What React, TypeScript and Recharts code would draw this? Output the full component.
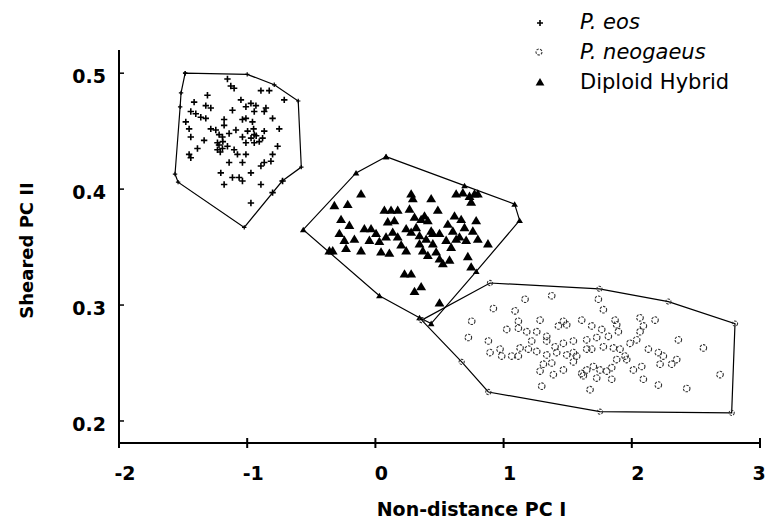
import { ScatterChart, Scatter, XAxis, YAxis, Legend, Label } from "recharts";

type Pt = [number, number];

// P. eos (plus signs)
const eosPoints: Pt[] = [
  [-1.154, 0.495], [-1.128, 0.489], [-1.102, 0.487], [-0.893, 0.485], [-0.828, 0.485],
  [-0.711, 0.477], [-1.31, 0.481], [-1.414, 0.475], [-1.323, 0.472], [-1.284, 0.47],
  [-1.44, 0.467], [-1.401, 0.465], [-1.362, 0.462], [-1.323, 0.461], [-1.479, 0.458],
  [-1.453, 0.452], [-1.44, 0.445], [-1.388, 0.435], [-1.453, 0.43], [-1.44, 0.427],
  [-1.336, 0.442], [-1.284, 0.452], [-1.245, 0.451], [-1.18, 0.46], [-1.18, 0.455],
  [-1.219, 0.447], [-1.232, 0.44], [-1.232, 0.434], [-1.193, 0.435], [-1.154, 0.437],
  [-1.115, 0.468], [-1.049, 0.477], [-1.01, 0.471], [-0.971, 0.474], [-0.932, 0.472],
  [-0.945, 0.467], [-0.867, 0.467], [-0.854, 0.47], [-0.802, 0.461], [-1.037, 0.46],
  [-0.959, 0.458], [-1.088, 0.451], [-0.997, 0.45], [-0.945, 0.447], [-0.867, 0.45],
  [-0.88, 0.444], [-0.906, 0.441], [-0.945, 0.44], [-1.01, 0.44], [-0.75, 0.452],
  [-0.763, 0.437], [-0.802, 0.43], [-0.815, 0.424], [-0.867, 0.423], [-0.893, 0.42],
  [-1.01, 0.43], [-1.037, 0.423], [-1.076, 0.43], [-1.102, 0.434], [-1.141, 0.423],
  [-1.206, 0.414], [-1.18, 0.404], [-1.115, 0.41], [-1.063, 0.41], [-1.037, 0.407],
  [-0.971, 0.414], [-0.893, 0.404], [-0.971, 0.388], [-0.802, 0.397], [-0.724, 0.407],
  [-1.141, 0.448], [-1.193, 0.445], [-1.01, 0.461], [-1.037, 0.445], [-1.22, 0.438],
  [-1.19, 0.441], [-1.21, 0.432], [-0.95, 0.452], [-0.93, 0.446], [-0.97, 0.444],
];

// P. neogaeus (open circles)
const neoPoints: Pt[] = [
  [1.375, 0.308], [1.167, 0.305], [0.92, 0.297], [1.089, 0.295], [1.115, 0.286],
  [1.284, 0.287], [1.739, 0.305], [1.778, 0.296], [0.751, 0.286], [0.725, 0.272],
  [0.881, 0.269], [0.894, 0.259], [0.985, 0.256], [1.024, 0.279], [1.115, 0.28],
  [1.18, 0.277], [1.258, 0.277], [1.336, 0.273], [1.427, 0.282], [1.466, 0.286],
  [1.492, 0.283], [1.609, 0.287], [1.687, 0.282], [1.765, 0.279], [1.869, 0.287],
  [1.882, 0.283], [1.895, 0.277], [1.817, 0.273], [1.726, 0.272], [1.648, 0.27],
  [1.544, 0.269], [1.466, 0.267], [1.401, 0.264], [1.336, 0.269], [1.219, 0.269],
  [1.193, 0.262], [1.128, 0.263], [1.115, 0.256], [1.258, 0.26], [1.336, 0.257],
  [1.414, 0.259], [1.492, 0.257], [1.544, 0.259], [1.57, 0.256], [1.648, 0.262],
  [1.687, 0.262], [1.778, 0.264], [1.856, 0.263], [1.908, 0.262], [1.947, 0.256],
  [1.986, 0.267], [2.038, 0.27], [2.064, 0.277], [2.09, 0.282], [2.064, 0.289],
  [2.181, 0.287], [2.363, 0.27], [2.558, 0.263], [2.688, 0.24], [2.129, 0.262],
  [2.207, 0.259], [2.246, 0.256], [2.35, 0.253], [2.311, 0.249], [2.22, 0.249],
  [2.077, 0.247], [2.09, 0.236], [2.207, 0.231], [2.428, 0.228], [1.882, 0.253],
  [1.843, 0.246], [1.804, 0.243], [1.752, 0.244], [1.7, 0.247], [1.648, 0.244],
  [1.622, 0.239], [1.609, 0.241], [1.726, 0.237], [1.843, 0.236], [1.674, 0.227],
  [1.466, 0.244], [1.375, 0.25], [1.31, 0.249], [1.284, 0.243], [1.297, 0.23],
  [1.063, 0.256], [0.972, 0.262], [1.388, 0.24], [1.544, 0.251], [2.012, 0.244],
  [1.96, 0.253],
];

// Diploid hybrid (filled triangles)
const hybPoints: Pt[] = [
  [-0.112, 0.396], [-0.32, 0.386], [-0.216, 0.387], [-0.268, 0.374], [-0.203, 0.369],
  [-0.281, 0.362], [-0.242, 0.356], [-0.164, 0.357], [-0.333, 0.347], [-0.229, 0.349],
  [-0.112, 0.347], [-0.086, 0.366], [-0.034, 0.366], [-0.047, 0.356], [0.005, 0.362],
  [0.031, 0.355], [0.044, 0.346], [0.109, 0.345], [0.07, 0.382], [0.122, 0.382],
  [0.174, 0.382], [0.096, 0.372], [0.148, 0.373], [0.135, 0.363], [0.083, 0.359],
  [0.174, 0.359], [0.201, 0.352], [0.24, 0.347], [0.279, 0.396], [0.292, 0.392],
  [0.266, 0.383], [0.305, 0.376], [0.24, 0.366], [0.279, 0.363], [0.318, 0.367],
  [0.357, 0.374], [0.383, 0.377], [0.409, 0.373], [0.435, 0.392], [0.487, 0.382],
  [0.435, 0.364], [0.396, 0.357], [0.344, 0.353], [0.37, 0.347], [0.409, 0.343],
  [0.448, 0.353], [0.474, 0.346], [0.5, 0.34], [0.526, 0.336], [0.578, 0.339],
  [0.552, 0.356], [0.565, 0.37], [0.604, 0.364], [0.617, 0.377], [0.63, 0.357],
  [0.669, 0.374], [0.695, 0.367], [0.656, 0.359], [0.708, 0.356], [0.721, 0.342],
  [0.747, 0.333], [0.786, 0.373], [0.799, 0.357], [0.878, 0.353], [0.76, 0.364],
  [0.63, 0.396], [0.682, 0.397], [0.734, 0.394], [0.773, 0.396], [0.747, 0.389],
  [0.799, 0.396], [0.227, 0.327], [0.279, 0.327], [0.305, 0.312], [0.357, 0.316],
  [0.5, 0.302], [-0.359, 0.347], [0.448, 0.362], [0.5, 0.362], [0.591, 0.35],
  [0.344, 0.36],
];

// convex hull vertices, in drawing order
const eosHull: Pt[] = [
  [-1.484, 0.5], [-1.0, 0.499], [-0.789, 0.49], [-0.602, 0.476], [-0.578, 0.419],
  [-0.727, 0.407], [-1.023, 0.367], [-1.539, 0.406], [-1.563, 0.413], [-1.523, 0.471],
  [-1.516, 0.483],
];
const hybHull: Pt[] = [
  [0.083, 0.428], [0.695, 0.403], [1.086, 0.387], [1.125, 0.373], [0.787, 0.329],
  [0.435, 0.284], [0.344, 0.289], [0.031, 0.308], [-0.563, 0.365], [-0.151, 0.414],
];
const neoHull: Pt[] = [
  [0.361, 0.287], [0.894, 0.319], [1.747, 0.314], [2.285, 0.303], [2.805, 0.284],
  [2.779, 0.207], [1.752, 0.208], [0.881, 0.225], [0.673, 0.251],
];

const xTicks = [-2, -1, 0, 1, 2, 3];
const yTicks = [0.2, 0.3, 0.4, 0.5];
const seriesNames = ["P. eos", "P. neogaeus", "Diploid Hybrid"];

const FONT = "'DejaVu Sans', sans-serif";

const toXY = (pts: Pt[]) => pts.map(([x, y]) => ({ x, y }));
const closed = (pts: Pt[]) => toXY([...pts, pts[0]]);

const plus = (cx: number, cy: number, s: number, w = 1.5) => (
  <path d={`M${cx - s},${cy}H${cx + s}M${cx},${cy - s}V${cy + s}`} stroke="#000" strokeWidth={w} fill="none" />
);
const ring = (cx: number, cy: number, r: number) => (
  <circle cx={cx} cy={cy} r={r} fill="none" stroke="#333" strokeWidth={1.1} strokeDasharray="2.5 1.2" />
);
const tri = (cx: number, cy: number, s: number) => (
  <path d={`M${cx},${cy - s}L${cx + s * 1.1},${cy + s * 0.85}L${cx - s * 1.1},${cy + s * 0.85}Z`} fill="#000" />
);

const EosShape = (p: any) => plus(p.cx, p.cy, 3.2, 1.6);
const NeoShape = (p: any) => ring(p.cx, p.cy, 3.3);
const HybShape = (p: any) => tri(p.cx, p.cy, 4.5);
const EosVertex = (p: any) => plus(p.cx, p.cy, 2.2, 1.2);
const NeoVertex = (p: any) => ring(p.cx, p.cy, 2.6);
const HybVertex = (p: any) => tri(p.cx, p.cy, 3);

const XTick = (props: any) => {
  const { x, y, payload } = props;
  return (
    <g>
      <line x1={x} y1={y - 5} x2={x} y2={y + 5} stroke="#000" strokeWidth={2} />
      <text x={Math.min(x + 6, 759)} y={y + 37} textAnchor="middle" fontFamily={FONT} fontWeight="bold" fontSize={19} fill="#000">
        {payload.value}
      </text>
    </g>
  );
};

const YTick = (props: any) => {
  const { x, y, payload } = props;
  return (
    <g>
      <line x1={x} y1={y} x2={x + 5} y2={y} stroke="#000" strokeWidth={1.5} />
      <text x={x - 13} y={y + 10} textAnchor="end" fontFamily={FONT} fontWeight="bold" fontSize={19} fill="#000">
        {payload.value.toFixed(1)}
      </text>
    </g>
  );
};

const LegendBox = () => (
  <svg width={240} height={100}>
    {plus(20, 23, 3, 1.6)}
    <text x={60} y={29} fontFamily={FONT} fontStyle="italic" fontSize={21} fill="#000">{seriesNames[0]}</text>
    {ring(19, 52, 3)}
    <text x={60} y={59} fontFamily={FONT} fontStyle="italic" fontSize={21} fill="#000">{seriesNames[1]}</text>
    {tri(20, 82, 4)}
    <text x={60} y={89} fontFamily={FONT} fontSize={21} fill="#000">{seriesNames[2]}</text>
  </svg>
);

export default function App() {
  return (
    <div style={{ position: "absolute", left: 0, top: 0, width: 768, height: 522, background: "#fff" }}>
      <ScatterChart width={768} height={522} margin={{ top: 50, right: 8, bottom: 0, left: 0 }}>
        <XAxis
          type="number"
          dataKey="x"
          domain={[-2, 3]}
          ticks={xTicks}
          allowDataOverflow
          height={79}
          tickLine={false}
          tickSize={0}
          tickMargin={0}
          tick={<XTick />}
          axisLine={{ stroke: "#000", strokeWidth: 2 }}
        >
          <Label
            content={(p: any) => (
              <text
                x={p.viewBox.x + p.viewBox.width / 2 + 32}
                y={p.viewBox.y + 73}
                textAnchor="middle"
                fontFamily={FONT}
                fontWeight="bold"
                fontSize={19}
                fill="#000"
              >
                Non-distance PC I
              </text>
            )}
          />
        </XAxis>
        <YAxis
          type="number"
          dataKey="y"
          domain={[0.181, 0.52]}
          ticks={yTicks}
          allowDataOverflow
          width={119}
          tickLine={false}
          tickSize={0}
          tickMargin={0}
          tick={<YTick />}
          axisLine={{ stroke: "#000", strokeWidth: 2 }}
        >
          <Label
            content={(p: any) => {
              const cx = p.viewBox.x + 33;
              const cy = p.viewBox.y + p.viewBox.height / 2 + 4;
              return (
                <text
                  x={cx}
                  y={cy}
                  transform={`rotate(-90, ${cx}, ${cy})`}
                  textAnchor="middle"
                  fontFamily={FONT}
                  fontWeight="bold"
                  fontSize={18}
                  fill="#000"
                >
                  Sheared PC II
                </text>
              );
            }}
          />
        </YAxis>
        <Legend
          layout="vertical"
          align="center"
          verticalAlign="middle"
          wrapperStyle={{ top: 0, left: 520, width: 240, height: 100 }}
          content={() => <LegendBox />}
        />
        <Scatter name="eos hull" data={closed(eosHull)} line={{ stroke: "#000", strokeWidth: 1.2 }} lineType="joint" shape={EosVertex} legendType="none" isAnimationActive={false} />
        <Scatter name="hybrid hull" data={closed(hybHull)} line={{ stroke: "#000", strokeWidth: 1.2 }} lineType="joint" shape={HybVertex} legendType="none" isAnimationActive={false} />
        <Scatter name="neogaeus hull" data={closed(neoHull)} line={{ stroke: "#000", strokeWidth: 1.2 }} lineType="joint" shape={NeoVertex} legendType="none" isAnimationActive={false} />
        <Scatter name={seriesNames[0]} data={toXY(eosPoints)} shape={EosShape} isAnimationActive={false} />
        <Scatter name={seriesNames[1]} data={toXY(neoPoints)} shape={NeoShape} isAnimationActive={false} />
        <Scatter name={seriesNames[2]} data={toXY(hybPoints)} shape={HybShape} isAnimationActive={false} />
      </ScatterChart>
    </div>
  );
}
